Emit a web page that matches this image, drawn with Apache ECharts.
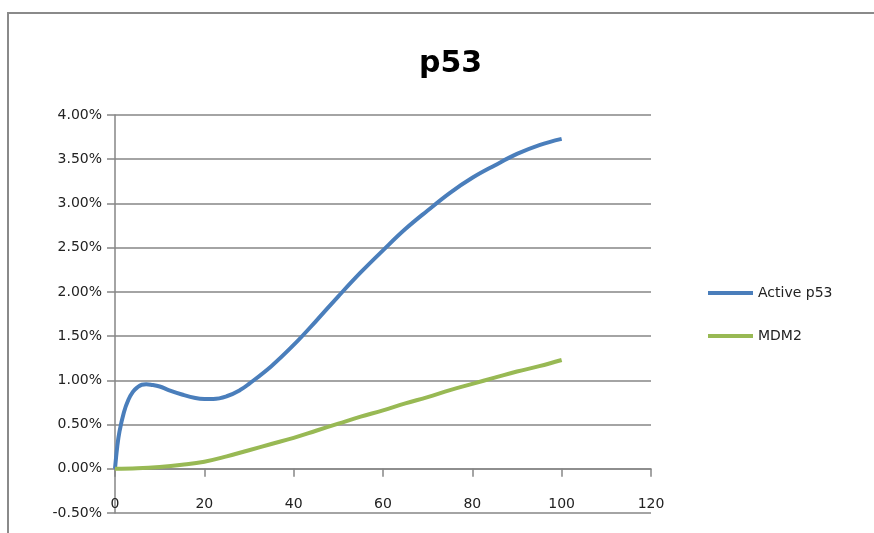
<!DOCTYPE html>
<html>
<head>
<meta charset="utf-8">
<script src="https://cdn.jsdelivr.net/npm/echarts@6/dist/echarts.min.js"></script>
<style>
  html, body { margin: 0; padding: 0; background: #fff; }
  #chart { width: 874px; height: 533px; }
</style>
</head>
<body>
<div id="chart"></div>
<script>
// Simulation time points and levels (percent)
const timeP53 = [0, 0.5, 1, 2, 3, 4, 5, 6, 7, 8, 10, 12, 15, 18, 20, 22, 25, 28, 30, 35, 40, 45, 50, 55, 60, 65, 70, 75, 80, 85, 90, 95, 100];
const activeP53 = [0, 0.25, 0.42, 0.64, 0.78, 0.87, 0.92, 0.95, 0.955, 0.95, 0.93, 0.89, 0.84, 0.80, 0.79, 0.79, 0.82, 0.89, 0.96, 1.16, 1.40, 1.67, 1.95, 2.22, 2.47, 2.71, 2.92, 3.12, 3.29, 3.43, 3.56, 3.66, 3.73];
const timeMDM2 = [0, 5, 10, 15, 20, 25, 30, 35, 40, 45, 50, 55, 60, 65, 70, 75, 80, 85, 90, 95, 100];
const mdm2 = [0, 0.005, 0.02, 0.045, 0.08, 0.14, 0.21, 0.28, 0.35, 0.43, 0.51, 0.59, 0.66, 0.74, 0.81, 0.89, 0.96, 1.03, 1.10, 1.16, 1.23];
const seriesNames = ['Active p53', 'MDM2'];
const xTicks = { min: 0, max: 120, interval: 20 };
const yTicks = { min: -0.5, max: 4, interval: 0.5 };

const pairs = (xs, ys) => xs.map((x, i) => [x, ys[i]]);

const chart = echarts.init(document.getElementById('chart'));
const gray = '#868686';
const font = 'DejaVu Sans';

chart.setOption({
  animation: false,
  title: {
    text: 'p53',
    left: 414, top: 44,
    textStyle: { fontFamily: font, fontWeight: 'bold', fontSize: 30, color: '#000' }
  },
  graphic: [{
    type: 'rect',
    shape: { x: 8, y: 13, width: 900, height: 560 },
    style: { fill: 'none', stroke: '#8a8a8a', lineWidth: 2 },
    silent: true
  }],
  grid: { left: 115, right: 223, top: 115, bottom: 20, containLabel: false, outerBoundsMode: 'none' },
  legend: {
    orient: 'vertical',
    left: 703, top: 281,
    itemWidth: 45, itemHeight: 4, itemGap: 29,
    icon: 'rect',
    textStyle: { fontFamily: font, fontSize: 14, color: '#222' },
    data: seriesNames
  },
  xAxis: {
    type: 'value',
    min: xTicks.min, max: xTicks.max, interval: xTicks.interval,
    axisLine: { onZero: true, lineStyle: { color: gray, width: 1.5 } },
    axisTick: { show: true, length: 8, lineStyle: { color: gray, width: 1.5 } },
    axisLabel: { margin: -16, fontFamily: font, fontSize: 14, color: '#222' },
    splitLine: { show: false }
  },
  yAxis: {
    type: 'value',
    min: yTicks.min, max: yTicks.max, interval: yTicks.interval,
    axisLine: { show: true, onZero: false, lineStyle: { color: gray, width: 1.5 } },
    axisTick: { show: true, length: 8, lineStyle: { color: gray, width: 1.5 } },
    axisLabel: {
      margin: 13, fontFamily: font, fontSize: 14, color: '#222',
      formatter: v => v.toFixed(2) + '%'
    },
    splitLine: { show: true, lineStyle: { color: gray, width: 1.5 } }
  },
  series: [
    {
      name: seriesNames[0], type: 'line', smooth: 0.4, showSymbol: false,
      data: pairs(timeP53, activeP53),
      lineStyle: { color: '#4a7ebb', width: 4 }, itemStyle: { color: '#4a7ebb' }
    },
    {
      name: seriesNames[1], type: 'line', smooth: 0.4, showSymbol: false,
      data: pairs(timeMDM2, mdm2),
      lineStyle: { color: '#98b954', width: 4 }, itemStyle: { color: '#98b954' }
    }
  ]
});
</script>
</body>
</html>
